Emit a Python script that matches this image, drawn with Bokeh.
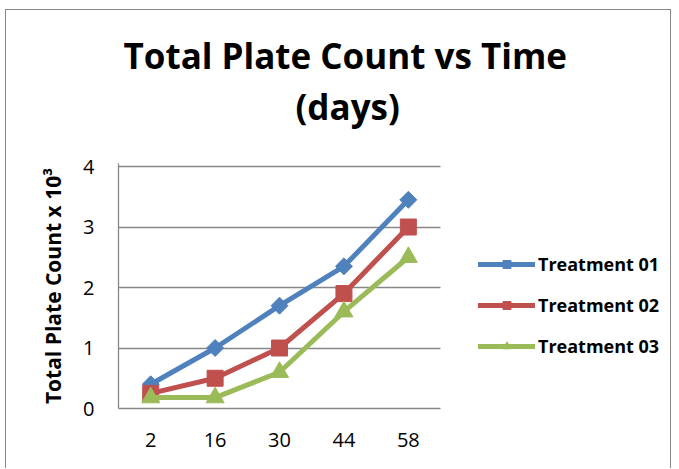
import math
from bokeh.plotting import figure
from bokeh.models import (Range1d, Title, Legend, LegendItem, FixedTicker,
                          ColorBar, LinearColorMapper, Grid)
from bokeh.embed import file_html
from bokeh.resources import INLINE

days = ["2", "16", "30", "44", "58"]
t01 = [0.4, 1.0, 1.7, 2.35, 3.45]
t02 = [0.25, 0.5, 1.0, 1.9, 3.0]
t03 = [0.18, 0.18, 0.6, 1.6, 2.5]
series_names = ["Treatment 01", "Treatment 02", "Treatment 03"]
y_ticks = [0, 1, 2, 3, 4]
title_lines = ["Total Plate Count vs Time", "(days)"]
y_title = "Total Plate Count x 10\u00b3"

FONT = "Open Sans"
GRAY = "#878787"

# category slots 1..5; the plot area spans slots 0.5..5.5, the rest is legend space
x_pos = list(range(1, len(days) + 1))
cat_lo, cat_hi = 0.5, len(days) + 0.5

p = figure(width=666, height=459,
           x_range=Range1d(cat_lo, 9.07),
           y_range=Range1d(0, 4.05),
           output_backend="svg", toolbar_location=None,
           min_border_left=112, min_border_right=2,
           min_border_top=153, min_border_bottom=61)
p.styles = {"margin-left": "5px", "margin-top": "9px",
            "border-left": "1px solid " + GRAY, "border-top": "1px solid " + GRAY,
            "border-right": "1px solid " + GRAY}
p.outline_line_color = None
p.xgrid.grid_line_color = None
p.yaxis.ticker = FixedTicker(ticks=y_ticks)
p.xaxis.ticker = FixedTicker(ticks=x_pos)
p.xaxis.major_label_overrides = {x: d for x, d in zip(x_pos, days)}
p.xaxis.bounds = (cat_lo, cat_hi)

if "cross_bounds" in Grid.properties():
    p.ygrid.grid_line_color = GRAY
    p.ygrid.grid_line_width = 1.3
    p.ygrid.cross_bounds = (cat_lo, cat_hi)
else:
    p.ygrid.grid_line_color = None
    p.segment(x0=cat_lo, x1=cat_hi, y0=y_ticks, y1=y_ticks,
              line_color=GRAY, line_width=1.3)

for ax in (p.xaxis[0], p.yaxis[0]):
    ax.axis_line_color = GRAY
    ax.axis_line_width = 1.3
    ax.major_tick_out = 0
    ax.major_tick_in = 0
    ax.minor_tick_out = 0
    ax.minor_tick_in = 0
    ax.major_label_text_font = FONT
    ax.major_label_text_font_size = "20px"
    ax.major_label_text_color = "black"
    ax.major_label_standoff = 24

p.yaxis.axis_label = y_title
p.yaxis.axis_label_text_font = FONT
p.yaxis.axis_label_text_font_style = "bold"
p.yaxis.axis_label_text_font_size = "21px"
p.yaxis.axis_label_text_color = "black"
p.yaxis.axis_label_standoff = 13

colors = ["#4F81BD", "#C0504D", "#9BBB59"]
markers = ["square", "square", "triangle"]
angles = [math.pi / 4, 0, 0]
sizes = [12, 16, 18]
items = []
for name, vals, c, m, a, s in zip(series_names, [t01, t02, t03], colors, markers, angles, sizes):
    ln = p.line(x_pos, vals, line_color=c, line_width=5, line_join="round", line_cap="round")
    sc = p.scatter(x_pos, vals, marker=m, size=s, angle=a, fill_color=c, line_color=c)
    items.append(LegendItem(label=name, renderers=[ln, sc]))

legend = Legend(items=items, location=(360, 50), orientation="vertical")
legend.border_line_color = None
legend.background_fill_alpha = 0
legend.padding = 0
legend.margin = 0
legend.glyph_width = 57
legend.glyph_height = 20
legend.label_height = 20
legend.spacing = 17
legend.label_standoff = 3
legend.label_text_font = FONT
legend.label_text_font_style = "bold"
legend.label_text_font_size = "18px"
legend.label_text_color = "black"
p.add_layout(legend, "center")

# invisible spacer between the plot area and the two-line title
spacer = ColorBar(color_mapper=LinearColorMapper(palette=["#ffffff"], low=0, high=1),
                  orientation="horizontal", width=10, height=32, padding=0, margin=0,
                  ticker=FixedTicker(ticks=[]), scale_alpha=0, bar_line_color=None,
                  border_line_color=None, background_fill_alpha=0,
                  major_tick_line_color=None, minor_tick_line_color=None,
                  major_tick_out=0, major_tick_in=0, label_standoff=0)
p.add_layout(spacer, "above")

p.add_layout(Title(text=title_lines[1], align="left", offset=177, text_font=FONT,
                   text_font_style="bold", text_font_size="35px", text_color="black",
                   standoff=4), "above")
p.add_layout(Title(text=title_lines[0], align="left", offset=5, text_font=FONT,
                   text_font_style="bold", text_font_size="35px", text_color="black",
                   standoff=0), "above")

open("out.html", "w").write(file_html(p, INLINE))
